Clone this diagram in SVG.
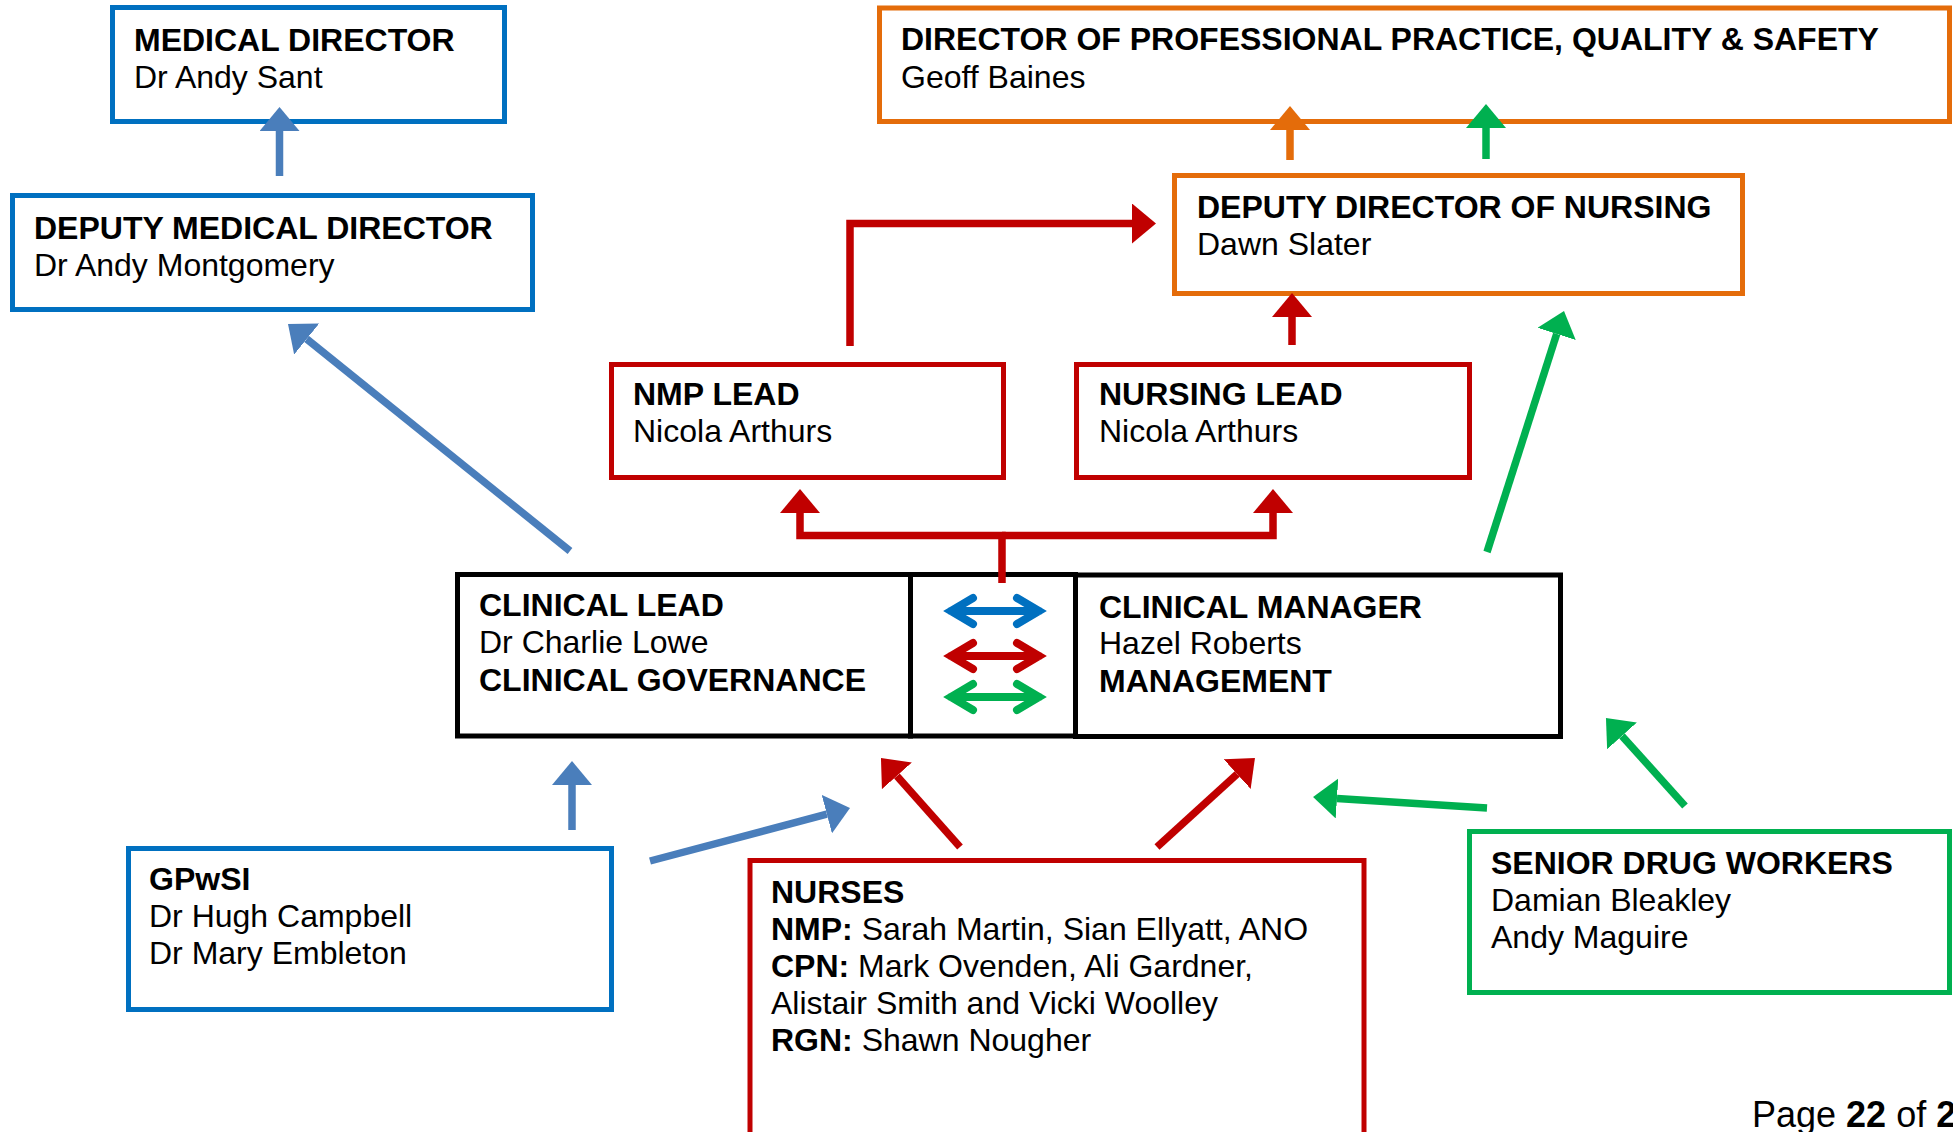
<svg xmlns="http://www.w3.org/2000/svg" width="1953" height="1132" viewBox="0 0 1953 1132">
  <style>
    text { font-family: "Liberation Sans", Arial, sans-serif; font-size: 32px; fill: #000; }
    .b { font-weight: bold; }
    .page { font-size: 36px; }
    .box { fill: #fff; stroke-width: 5; }
    .blue { stroke: #0070C0; }
    .red { stroke: #C00000; }
    .orange { stroke: #E46C0A; }
    .green { stroke: #00B050; }
    .black { stroke: #000; }
    .ln { fill: none; stroke-width: 7.5; stroke-linejoin: miter; }
    .lb { stroke: #4A7EBB; }
    .lr { stroke: #C00000; }
    .lo { stroke: #E46C0A; }
    .lg { stroke: #00B050; }
    .dbl { fill: none; stroke-width: 8; stroke-linecap: round; stroke-linejoin: miter; }
  </style>
  <defs>
    <marker id="hb" markerUnits="userSpaceOnUse" markerWidth="24" markerHeight="40" viewBox="0 0 24 40" refX="0" refY="20" orient="auto"><path d="M0,0 L24,20 L0,40 z" fill="#4A7EBB"/></marker>
    <marker id="hr" markerUnits="userSpaceOnUse" markerWidth="24" markerHeight="40" viewBox="0 0 24 40" refX="0" refY="20" orient="auto"><path d="M0,0 L24,20 L0,40 z" fill="#C00000"/></marker>
    <marker id="ho" markerUnits="userSpaceOnUse" markerWidth="24" markerHeight="40" viewBox="0 0 24 40" refX="0" refY="20" orient="auto"><path d="M0,0 L24,20 L0,40 z" fill="#E46C0A"/></marker>
    <marker id="hg" markerUnits="userSpaceOnUse" markerWidth="24" markerHeight="40" viewBox="0 0 24 40" refX="0" refY="20" orient="auto"><path d="M0,0 L24,20 L0,40 z" fill="#00B050"/></marker>
  </defs>

  <rect width="1953" height="1132" fill="#fff"/>

  <!-- nodes -->
  <g id="medical-director">
    <rect class="box blue" x="112.5" y="7.5" width="392" height="114"/>
    <text x="134" y="50.5" class="b">MEDICAL DIRECTOR</text>
    <text x="134" y="87.5">Dr Andy Sant</text>
  </g>

  <g id="deputy-medical-director">
    <rect class="box blue" x="12.5" y="195.5" width="520" height="114"/>
    <text x="34" y="238.5" class="b">DEPUTY MEDICAL DIRECTOR</text>
    <text x="34" y="275.5">Dr Andy Montgomery</text>
  </g>

  <g id="director-professional-practice">
    <rect class="box orange" x="879.5" y="8" width="1070" height="113.5"/>
    <text x="901" y="50" class="b">DIRECTOR OF PROFESSIONAL PRACTICE, QUALITY &amp; SAFETY</text>
    <text x="901" y="87.5">Geoff Baines</text>
  </g>

  <g id="deputy-director-nursing">
    <rect class="box orange" x="1174.5" y="175.5" width="568" height="118"/>
    <text x="1197" y="217.5" class="b">DEPUTY DIRECTOR OF NURSING</text>
    <text x="1197" y="254.5">Dawn Slater</text>
  </g>

  <g id="nmp-lead">
    <rect class="box red" x="611.5" y="364.5" width="392" height="113"/>
    <text x="633" y="404.5" class="b">NMP LEAD</text>
    <text x="633" y="441.5">Nicola Arthurs</text>
  </g>

  <g id="nursing-lead">
    <rect class="box red" x="1076.5" y="364.5" width="393" height="113"/>
    <text x="1099" y="404.5" class="b">NURSING LEAD</text>
    <text x="1099" y="441.5">Nicola Arthurs</text>
  </g>

  <g id="clinical-lead">
    <rect class="box black" x="457.5" y="574.5" width="453" height="161.5"/>
    <text x="479" y="616" class="b">CLINICAL LEAD</text>
    <text x="479" y="653">Dr Charlie Lowe</text>
    <text x="479" y="690.5" class="b">CLINICAL GOVERNANCE</text>
  </g>

  <g id="joint-working">
    <rect class="box black" x="910.5" y="574.5" width="165" height="161.5"/>
    <path class="dbl" stroke="#0070C0" d="M973,598 L951,611 L973,624 M951,611 H1039 M1017,598 L1039,611 L1017,624"/>
    <path class="dbl" stroke="#C00000" d="M973,643 L951,656 L973,669 M951,656 H1039 M1017,643 L1039,656 L1017,669"/>
    <path class="dbl" stroke="#00B050" d="M973,684 L951,697 L973,710 M951,697 H1039 M1017,684 L1039,697 L1017,710"/>
  </g>

  <g id="clinical-manager">
    <rect class="box black" x="1075.5" y="575" width="485" height="161.5"/>
    <text x="1099" y="617.5" class="b">CLINICAL MANAGER</text>
    <text x="1099" y="654">Hazel Roberts</text>
    <text x="1099" y="691.5" class="b">MANAGEMENT</text>
  </g>

  <g id="gpwsi">
    <rect class="box blue" x="128.5" y="848.5" width="483" height="161"/>
    <text x="149" y="889.5" class="b">GPwSI</text>
    <text x="149" y="926.5">Dr Hugh Campbell</text>
    <text x="149" y="963.5">Dr Mary Embleton</text>
  </g>

  <g id="nurses">
    <rect class="box red" x="750" y="860.5" width="614" height="320"/>
    <text x="771" y="902.5" class="b">NURSES</text>
    <text x="771" y="939.5"><tspan class="b">NMP:</tspan> Sarah Martin, Sian Ellyatt, ANO</text>
    <text x="771" y="976.5"><tspan class="b">CPN:</tspan> Mark Ovenden, Ali Gardner,</text>
    <text x="771" y="1013.5">Alistair Smith and Vicki Woolley</text>
    <text x="771" y="1050.5"><tspan class="b">RGN:</tspan> Shawn Nougher</text>
  </g>

  <g id="senior-drug-workers">
    <rect class="box green" x="1469.5" y="831.5" width="480" height="161"/>
    <text x="1491" y="873.5" class="b">SENIOR DRUG WORKERS</text>
    <text x="1491" y="910.5">Damian Bleakley</text>
    <text x="1491" y="947.5">Andy Maguire</text>
  </g>

  <!-- connectors -->
  <g id="connectors">
    <path class="ln lb" d="M279.5,176 V131" marker-end="url(#hb)"/>
    <path class="ln lb" d="M570,551 L306.7,339" marker-end="url(#hb)"/>
    <path class="ln lo" d="M1290,160 V130" marker-end="url(#ho)"/>
    <path class="ln lg" d="M1486,159 V128" marker-end="url(#hg)"/>
    <path class="ln lr" d="M850,346 V223.5 H1132" marker-end="url(#hr)"/>
    <path class="ln lr" d="M1292,345 V317" marker-end="url(#hr)"/>
    <path class="ln lg" d="M1487,552 L1556.7,333.9" marker-end="url(#hg)"/>
    <path class="ln lr" d="M1002,583 V535.5 H800 V513" marker-end="url(#hr)"/>
    <path class="ln lr" d="M1002,535.5 H1273 V513" marker-end="url(#hr)"/>
    <path class="ln lb" d="M572,830 V785" marker-end="url(#hb)"/>
    <path class="ln lb" d="M650,861 L826.8,814.1" marker-end="url(#hb)"/>
    <path class="ln lr" d="M960,847 L896.9,775.9" marker-end="url(#hr)"/>
    <path class="ln lr" d="M1157,847 L1237.2,774.1" marker-end="url(#hr)"/>
    <path class="ln lg" d="M1487,808 L1337,798.5" marker-end="url(#hg)"/>
    <path class="ln lg" d="M1685,806 L1622,735.9" marker-end="url(#hg)"/>
  </g>

  <text class="page" x="1752" y="1127">Page <tspan class="b">22</tspan> of <tspan class="b">2</tspan></text>
</svg>
